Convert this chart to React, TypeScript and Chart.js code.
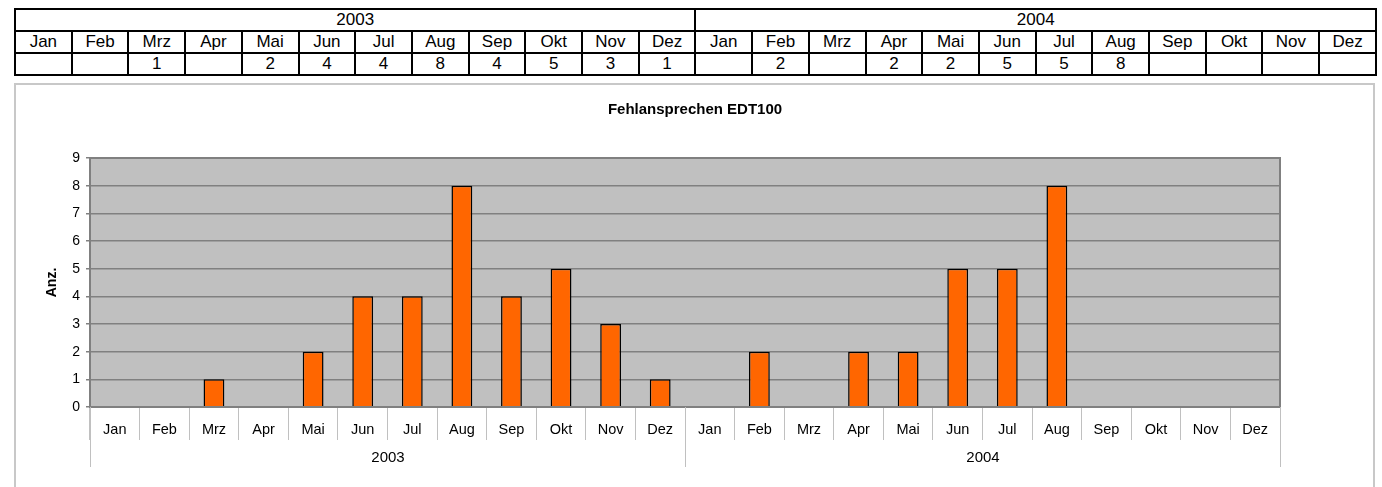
import React, { useEffect, useRef } from "react";
import { Chart, registerables } from "chart.js";

Chart.register(...registerables);

const months = ["Jan", "Feb", "Mrz", "Apr", "Mai", "Jun", "Jul", "Aug", "Sep", "Okt", "Nov", "Dez"];
const years = ["2003", "2004"];
const values2003: (number | null)[] = [null, null, 1, null, 2, 4, 4, 8, 4, 5, 3, 1];
const values2004: (number | null)[] = [null, 2, null, 2, 2, 5, 5, 8, null, null, null, null];
const yTicks = [0, 1, 2, 3, 4, 5, 6, 7, 8, 9];
const chartTitle = "Fehlansprechen EDT100";
const yTitle = "Anz.";

const FONT = "'Liberation Sans', Arial, sans-serif";

const yearPlugin = {
  id: "yearAxis",
  beforeDraw(chart: any) {
    const { ctx, chartArea } = chart;
    ctx.save();
    ctx.fillStyle = "#c0c0c0";
    ctx.fillRect(chartArea.left, chartArea.top, chartArea.right - chartArea.left, chartArea.bottom - chartArea.top);
    ctx.restore();
  },
  afterDraw(chart: any) {
    const { ctx, chartArea } = chart;
    const x = chart.scales.x;
    const half = (x.getPixelForValue(1) - x.getPixelForValue(0)) / 2;
    ctx.save();
    ctx.strokeStyle = "#808080";
    ctx.lineWidth = 2;
    ctx.strokeRect(chartArea.left, chartArea.top, chartArea.right - chartArea.left, chartArea.bottom - chartArea.top);
    ctx.strokeStyle = "#c0c0c0";
    ctx.lineWidth = 1;
    ctx.fillStyle = "#000";
    ctx.font = `15px ${FONT}`;
    ctx.textAlign = "center";
    ctx.textBaseline = "middle";
    const top = chartArea.bottom;
    years.forEach((yr, i) => {
      const l = Math.round(x.getPixelForValue(i * 12) - half) + 0.5;
      const r = Math.round(x.getPixelForValue(i * 12 + 11) + half) + 0.5;
      ctx.beginPath();
      ctx.moveTo(l, top);
      ctx.lineTo(l, top + 60);
      ctx.moveTo(r, top);
      ctx.lineTo(r, top + 60);
      ctx.stroke();
      ctx.fillText(yr, (l + r) / 2, top + 51);
    });
    ctx.restore();
  },
};

function DataTable() {
  const cell: React.CSSProperties = {
    border: "2px solid #000",
    padding: 0,
    height: 20,
    textAlign: "center",
    fontFamily: FONT,
    fontSize: 17,
    lineHeight: "18px",
    color: "#000",
  };
  const all = [values2003, values2004];
  return (
    <table
      style={{
        position: "absolute",
        left: 14,
        top: 8,
        width: 1363,
        borderCollapse: "collapse",
        tableLayout: "fixed",
        border: "2px solid #000",
      }}
    >
      <tbody>
        <tr>
          {years.map((y) => (
            <td key={y} colSpan={12} style={cell}>
              {y}
            </td>
          ))}
        </tr>
        <tr>
          {years.map((y) =>
            months.map((m) => (
              <td key={y + m} style={cell}>
                {m}
              </td>
            ))
          )}
        </tr>
        <tr>
          {all.map((vals, yi) =>
            vals.map((v, mi) => (
              <td key={yi + "-" + mi} style={cell}>
                {v === null ? "" : v}
              </td>
            ))
          )}
        </tr>
      </tbody>
    </table>
  );
}

export default function App() {
  const ref = useRef<HTMLCanvasElement | null>(null);
  useEffect(() => {
    if (!ref.current) return;
    const labels = years.flatMap(() => months);
    const data = [...values2003, ...values2004];
    const chart = new Chart(ref.current, {
      type: "bar",
      data: {
        labels,
        datasets: [
          {
            data,
            backgroundColor: "#ff6600",
            borderColor: "#000",
            borderWidth: 1.5,
            barPercentage: 0.42,
            categoryPercentage: 1,
          },
        ],
      },
      plugins: [yearPlugin],
      options: {
        animation: false,
        responsive: true,
        maintainAspectRatio: false,
        layout: { padding: { left: 0, right: 0, top: 0, bottom: 0 } },
        plugins: {
          legend: { display: false },
          tooltip: { enabled: false },
          title: {
            display: true,
            text: chartTitle,
            color: "#000",
            font: { family: FONT, size: 15, weight: "bold" },
            padding: { top: 16, bottom: 39 },
          },
        },
        scales: {
          x: {
            grid: {
              offset: true,
              drawOnChartArea: false,
              drawTicks: true,
              tickLength: 33,
              color: "#c0c0c0",
              lineWidth: 1,
            },
            border: { display: true, color: "#808080", width: 2 },
            ticks: {
              color: "#000",
              font: { family: FONT, size: 14.5 },
              padding: -19,
              maxRotation: 0,
              autoSkip: false,
            },
            afterFit: (s: any) => {
              s.height = 80;
            },
          },
          y: {
            min: 0,
            max: 9,
            afterBuildTicks: (s: any) => {
              s.ticks = yTicks.map((v) => ({ value: v }));
            },
            grid: {
              color: "#808080",
              lineWidth: 1.5,
              tickLength: 4,
              tickColor: "#808080",
            },
            border: { display: true, color: "#808080", width: 2 },
            ticks: {
              color: "#000",
              font: { family: FONT, size: 14 },
              padding: 6,
            },
            title: {
              display: true,
              text: yTitle,
              color: "#000",
              font: { family: FONT, size: 14, weight: "bold" },
              padding: { top: 28, bottom: 0 },
            },
            afterFit: (s: any) => {
              s.width = 74;
            },
          },
          yRight: {
            position: "right",
            display: true,
            grid: { display: false, drawTicks: false },
            border: { display: false },
            ticks: { display: false },
            afterFit: (s: any) => {
              s.width = 94;
            },
          },
        },
      },
    });
    return () => chart.destroy();
  }, []);

  return (
    <div style={{ position: "fixed", left: 0, top: 0, width: 1382, height: 487, background: "#fff", overflow: "hidden" }}>
      <DataTable />
      <div
        style={{
          position: "absolute",
          left: 14,
          top: 83,
          width: 1357,
          height: 420,
          border: "2px solid #c8c8c8",
        }}
      />
      <div style={{ position: "absolute", left: 16, top: 85, width: 1358, height: 402 }}>
        <canvas ref={ref} />
      </div>
    </div>
  );
}
